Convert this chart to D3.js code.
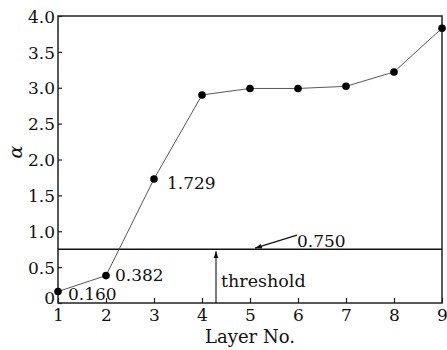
<!DOCTYPE html>
<html>
<head>
<meta charset="utf-8">
<script src="https://cdn.jsdelivr.net/npm/d3@7"></script>
<style>
body { margin: 0; background: #fff; }
text { font-family: "DejaVu Serif", serif; fill: #111; }
</style>
</head>
<body>
<script>
// data
var layers = [1, 2, 3, 4, 5, 6, 7, 8, 9];
var alphaVals = [0.160, 0.382, 1.729, 2.90, 2.99, 2.99, 3.02, 3.22, 3.83];
var labelled = [0, 1, 2]; // indexes that get a value label
var threshold = 0.750;
var yTicks = [0, 0.5, 1.0, 1.5, 2.0, 2.5, 3.0, 3.5, 4.0];

var W = 447, H = 350;
var margin = {left: 58, right: 5, top: 16, bottom: 47};

var svg = d3.select("body").append("svg")
            .attr("width", W)
            .attr("height", H);

var x = d3.scaleLinear().domain([1, 9]).range([margin.left, W - margin.right]);
var y = d3.scaleLinear().domain([0, 4]).range([H - margin.bottom, margin.top]);

// frame
svg.append("rect")
   .attr("x", x(1)).attr("y", y(4))
   .attr("width", x(9) - x(1)).attr("height", y(0) - y(4))
   .attr("fill", "none").attr("stroke", "#222").attr("stroke-width", 1.5);

// y axis, ticks pointing inside
var yAxis = svg.append("g")
   .attr("transform", "translate(" + x(1) + ",0)")
   .call(d3.axisLeft(y).tickValues(yTicks).tickSizeInner(-4).tickSizeOuter(0)
        .tickFormat(function(d) { return d === 0 ? "0" : d3.format(".1f")(d); }));
yAxis.select(".domain").remove();
yAxis.selectAll("line").attr("stroke", "#222").attr("stroke-width", 1.2);
yAxis.selectAll("text").attr("x", -3)
     .attr("dy", function(d) { return d === 0 ? "0em" : "0.36em"; })
     .style("font-size", "17px").style("font-family", "DejaVu Serif");

// x axis
var xAxis = svg.append("g")
   .attr("transform", "translate(0," + y(0) + ")")
   .call(d3.axisBottom(x).tickValues(layers).tickSizeInner(-5).tickSizeOuter(0)
        .tickFormat(d3.format("d")));
xAxis.select(".domain").remove();
xAxis.selectAll("line").attr("stroke", "#222").attr("stroke-width", 1.2);
xAxis.selectAll("text").attr("y", 6).attr("dy", "0.71em")
     .style("font-size", "17px").style("font-family", "DejaVu Serif");

// threshold line
svg.append("line")
   .attr("x1", x(1)).attr("x2", x(9))
   .attr("y1", y(threshold)).attr("y2", y(threshold))
   .attr("stroke", "#111").attr("stroke-width", 1.5);

// data line and dots
var line = d3.line()
   .x(function(d, i) { return x(layers[i]); })
   .y(function(d) { return y(d); });

svg.append("path")
   .datum(alphaVals)
   .attr("d", line)
   .attr("fill", "none").attr("stroke", "#444").attr("stroke-width", 0.9);

svg.selectAll("circle.pt")
   .data(alphaVals)
   .enter().append("circle")
   .attr("class", "pt")
   .attr("cx", function(d, i) { return x(layers[i]); })
   .attr("cy", function(d) { return y(d); })
   .attr("r", 3.8)
   .attr("fill", "#000");

// value labels
var lblOff = [[10, 8], [9, 5], [13, 10]];
svg.selectAll("text.val")
   .data(labelled)
   .enter().append("text")
   .attr("class", "val")
   .attr("x", function(i) { return x(layers[i]) + lblOff[i][0]; })
   .attr("y", function(i) { return y(alphaVals[i]) + lblOff[i][1]; })
   .style("font-size", "17px")
   .text(function(i) { return alphaVals[i].toFixed(3); });

// arrow marker
var defs = svg.append("defs");
defs.append("marker")
    .attr("id", "ah")
    .attr("viewBox", "0 0 10 10")
    .attr("refX", 10).attr("refY", 5)
    .attr("markerWidth", 7).attr("markerHeight", 7)
    .attr("orient", "auto")
    .attr("markerUnits", "userSpaceOnUse")
  .append("path")
    .attr("d", "M0,1.5 L10,5 L0,8.5 Z")
    .attr("fill", "#111");

// 0.750 annotation
svg.append("line")
   .attr("x1", 297).attr("y1", y(threshold) - 14)
   .attr("x2", 255).attr("y2", y(threshold) - 1)
   .attr("stroke", "#111").attr("stroke-width", 1.2)
   .attr("marker-end", "url(#ah)");
svg.append("text")
   .attr("x", 297).attr("y", y(threshold) - 2)
   .style("font-size", "17px")
   .text(threshold.toFixed(3));

// threshold arrow
svg.append("line")
   .attr("x1", 216).attr("y1", y(0))
   .attr("x2", 216).attr("y2", y(threshold) + 2)
   .attr("stroke", "#111").attr("stroke-width", 1.1)
   .attr("marker-end", "url(#ah)");
svg.append("text")
   .attr("x", 221).attr("y", 287)
   .style("font-size", "17.5px")
   .text("threshold");

// axis titles
svg.append("text")
   .attr("x", (x(1) + x(9)) / 2).attr("y", 343)
   .attr("text-anchor", "middle")
   .style("font-size", "18px")
   .text("Layer No.");

svg.append("text")
   .attr("transform", "translate(22,152) rotate(-90)")
   .attr("text-anchor", "middle")
   .style("font-size", "19px").style("font-style", "italic")
   .text("α");
</script>
</body>
</html>
